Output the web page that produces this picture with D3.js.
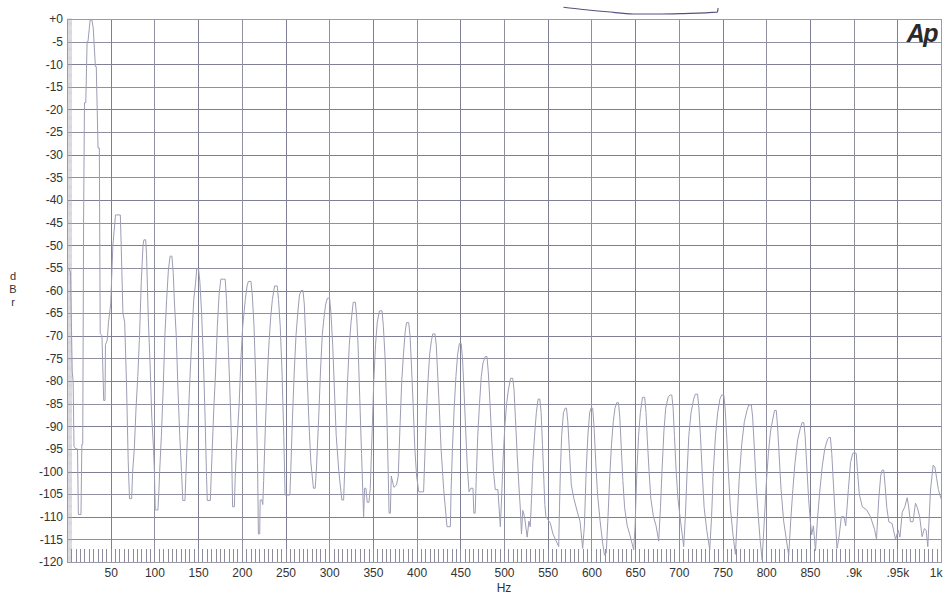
<!DOCTYPE html>
<html>
<head>
<meta charset="UTF-8">
<script src="https://cdn.jsdelivr.net/npm/d3@7"></script>
<style>
  body { margin: 0; background: #fff; }
  text { font-family: "Liberation Sans", Arial, sans-serif; }
</style>
</head>
<body>
<div id="chart"></div>
<script>
// FFT spectrum, dBr vs Hz
var yTickVals = [0, -5, -10, -15, -20, -25, -30, -35, -40, -45, -50, -55, -60,
  -65, -70, -75, -80, -85, -90, -95, -100, -105, -110, -115, -120];
var yTickLabels = ["+0", "-5", "-10", "-15", "-20", "-25", "-30", "-35", "-40", "-45",
  "-50", "-55", "-60", "-65", "-70", "-75", "-80", "-85", "-90", "-95", "-100",
  "-105", "-110", "-115", "-120"];
var xTickVals = [50, 100, 150, 200, 250, 300, 350, 400, 450, 500, 550, 600, 650,
  700, 750, 800, 850, 900, 950, 1000];
var xTickLabels = ["50", "100", "150", "200", "250", "300", "350", "400", "450",
  "500", "550", "600", "650", "700", "750", "800", "850", ".9k", ".95k", "1k"];
var yTitle = ["d", "B", "r"];

// [Hz, dBr]
var spectrum = [
  [2, -55], [4, -56], [6, -78], [7, -80], [8, -94.5], [10, -95], [12, -95], [13, -109.5], [16, -109.5], [17, -94], [18, -94],
  [19, -44], [20, -18.5], [21.5, -18.5], [23, -5], [24, -5], [26.5, -0.2], [28.5, -0.2], [30, -2], [32.5, -10.5], [33.5, -10.5], [35.5, -28.5], [37, -28.5], [38, -69.5], [40, -70], [42, -84.3], [43.5, -84.3],
  [44, -72], [46, -71], [47.5, -67], [50, -63], [52.5, -50], [55.5, -43.3], [61, -43.3], [62, -50], [64, -65], [66, -67], [68, -80], [70, -97.5], [71.5, -106], [74, -106], [75, -100.4], [77, -95],
  [79, -86], [81, -79], [83, -70], [85, -58], [87, -50], [88, -48.8], [90, -48.8], [91, -52], [93, -66], [95, -76], [97, -88], [99, -95], [100, -100], [101, -108.5], [104, -108.5], [105, -105], [106, -100],
  [108, -92], [110, -82], [112, -70], [114, -62], [116, -55.5], [118, -52.4], [120, -52.4], [121.5, -56], [123, -63], [125, -70], [127, -82], [129, -92], [131, -100], [132.5, -106.4], [135, -106.4], [136, -101], [137, -96],
  [139, -87], [141, -78], [143, -70], [145, -62], [147, -58.5], [148.5, -55.2], [150.5, -55.2], [152, -58], [154, -65], [156, -75], [158, -88], [159.5, -100], [160.5, -106.4], [164, -106.4], [165, -101], [166, -96],
  [168, -86], [170, -78], [172, -68], [174, -61], [176, -57.5], [181, -57.5], [182.5, -62], [184, -70], [186, -80], [188, -92], [189.5, -107.8], [191.5, -107.8], [192.5, -101], [194, -95],
  [197, -85], [199, -75], [201, -68], [204, -62], [206, -59], [207.5, -58], [210.5, -58], [212, -61], [214, -68], [216, -80], [218, -98], [219, -113.8], [220.5, -113.8], [221, -106.3], [223, -106.3], [224, -107.3], [225, -102],
  [227, -90], [229, -80], [231, -72], [233, -66], [235, -62], [237.5, -59], [240.5, -59], [242, -62], [244, -68], [246, -78], [248, -92], [249.5, -105.2], [255, -105.2], [256, -100],
  [258, -88], [260, -78], [262, -70], [264, -65], [266, -61], [268, -60], [270, -60], [271.5, -63], [273, -70], [275, -80], [277, -90], [279, -98], [282, -103.7], [284, -103.7], [285.5, -99],
  [288, -88], [290, -78], [292, -70], [294, -66], [296, -63], [298, -61.7], [300.5, -61.7], [302, -65], [304, -72], [306, -82], [308, -92], [311, -100], [314.5, -106.3], [316.5, -106.3], [317.5, -101],
  [319, -92], [321, -80], [323, -72], [325, -67], [327.5, -62.6], [330, -62.6], [331.5, -66], [333, -72], [335, -84], [337, -96], [339.4, -110], [340.5, -103.7], [342, -103.7], [343.5, -106.8], [345.5, -106.8], [347, -103.7],
  [349, -92], [351, -80], [353, -72], [355, -67], [357.5, -64.5], [360.5, -64.5], [362, -68], [364, -75], [366, -88], [367.5, -100], [368.5, -109.2], [370, -109.2], [371, -101], [374, -103.5], [377, -103], [379, -101],
  [381, -90], [383, -80], [385, -74], [387, -69], [388.5, -67.1], [391, -67.1], [392.5, -70], [394, -76], [396, -85], [398, -95], [400, -101], [402.5, -104.5], [408, -104.5], [409, -99],
  [411, -88], [413, -80], [415, -74], [417, -71], [418.5, -69.6], [421, -69.6], [422.5, -72], [424, -78], [426, -86], [428, -95], [431, -104], [434.8, -112.2], [438.6, -112.2], [439.5, -104],
  [441, -95], [443, -86], [445, -79], [447, -74], [449, -71.7], [451, -71.7], [452.5, -75], [454, -81], [456, -90], [458, -99], [460, -104.5], [462, -103.7], [464.5, -103.7], [465.5, -109.2], [467, -109.2], [468.5, -100],
  [470, -92], [472, -85], [474, -79], [476, -76], [478.5, -74.6], [480.5, -74.6], [482, -78], [484, -85], [486, -93], [488, -100], [490, -104], [493, -104], [495.8, -112.2], [497, -107],
  [499, -97], [501, -90], [503, -85], [505, -82], [507.5, -79.4], [510, -79.4], [511.5, -82], [513, -88], [515, -96], [517, -103], [518.7, -108.3], [520, -113.8], [521.5, -108.6], [523.5, -110], [526.5, -114.5], [528.5, -111], [530, -112.2], [531.5, -106],
  [533, -98], [535, -92], [537, -87], [539, -84], [541, -84], [542.5, -87], [544, -94], [546.7, -107.3], [548, -110], [553, -111.4], [556, -113.8], [562.6, -116.6], [563.5, -108],
  [564.5, -100], [566, -92], [568, -87], [570, -86], [571.5, -86], [573, -89], [575, -96], [577, -103], [580, -106], [584, -109], [587, -111], [590, -117], [592, -112],
  [594, -100], [596, -92], [598, -87], [599.5, -86], [601.5, -86], [603, -90], [605, -98], [607, -105], [610, -111], [613, -116], [615, -118.5], [617, -118], [619, -110],
  [621, -101], [623, -94], [625, -89], [627, -86], [629, -84.8], [631, -84.8], [632.5, -88], [634, -94], [636, -102], [638, -108], [641, -112], [644, -114], [648.4, -117.3], [650, -112],
  [652, -100], [654, -92], [656, -87], [658.5, -83.6], [661, -83.6], [662.5, -87], [664, -93], [666, -100], [668, -106], [671, -110], [674, -112], [677, -115.4], [679, -108],
  [681, -99], [683, -91], [685, -86], [688, -83.5], [690, -83.1], [692, -83.1], [693.5, -86], [695, -92], [697, -100], [699, -106], [702, -111], [705.6, -116.6], [707.5, -110],
  [709.5, -100], [711.5, -92], [714, -87], [717, -84], [719, -82.9], [721.5, -82.9], [723, -86], [725, -93], [727, -101], [729, -108], [732, -113], [735.4, -117.3], [737.5, -110],
  [739.5, -100], [742, -92], [744.5, -87], [747, -84], [749, -83.1], [751.5, -83.1], [753, -86], [755, -93], [757, -101], [759, -108], [762, -114], [764.8, -118.3], [767, -110],
  [769, -102], [772, -94], [775, -89], [778, -86.5], [780, -85.3], [783, -85.3], [784.5, -88], [786.5, -95], [788.5, -103], [791, -110], [793, -115], [795.3, -119.5], [797.5, -112],
  [800, -103], [802.5, -96], [805, -91], [808, -88], [809.5, -86.5], [811.5, -86.5], [813, -90], [815, -97], [817, -104], [820, -111], [823, -115], [825.8, -118.6], [828, -111],
  [830.5, -104], [833, -98], [836, -93], [839, -90.5], [841, -89.2], [843, -89.2], [844.5, -92], [846.5, -99], [848.5, -106], [850.5, -111], [852, -114], [854, -112], [856.4, -117.5], [858.5, -111],
  [861, -105], [864, -99], [867, -95], [870, -93], [871.5, -92.5], [873.5, -92.5], [875, -96], [877, -103], [879, -110], [881, -117], [883, -115], [886, -110], [889, -110], [891, -112], [892.5, -108],
  [894, -104], [896.5, -98], [899, -96], [901, -95.8], [903, -96], [904.5, -100], [906.5, -105], [910, -107.8], [915, -108.5], [919.3, -110], [924, -112.8], [926.2, -115], [928.8, -106],
  [931, -101], [932.5, -99.7], [934.5, -99.7], [936, -103], [938, -108], [940.3, -111.1], [944, -111.5], [948, -115], [951, -113], [953, -114.5],
  [955.7, -109], [958.6, -107.8], [961.3, -105.8], [963, -107.8], [965, -111.1], [968, -111.1], [970.8, -107], [973, -108], [975.6, -110], [978.4, -114.4], [981, -112.6], [983, -113], [984.9, -116.6], [988, -104.1],
  [991, -98.6], [993, -99], [995, -101.5], [997, -104], [1000, -106]
];

// pen mark on the scan, above the plot
var penMark = [[568, 2.6], [590, 2.1], [618, 1.6], [648, 1.1], [680, 1.1], [705, 1.2], [744, 1.5], [745, 2.4]];

var W = 944, H = 594;
var svg = d3.select("#chart").append("svg")
  .attr("width", W).attr("height", H);

var x = d3.scaleLinear().domain([0, 1000]).range([67, 941]);
var y = d3.scaleLinear().domain([-120, 0]).range([562, 19]);

var gridColor = "#7e7e94";

// grid
svg.append("g")
  .selectAll("line").data(yTickVals).enter().append("line")
  .attr("x1", x(0)).attr("x2", x(1000))
  .attr("y1", function(d){ return Math.round(y(d)) + 0.5; })
  .attr("y2", function(d){ return Math.round(y(d)) + 0.5; })
  .attr("stroke", function(d,i){ return i % 2 ? "#9090a0" : gridColor; })
  .attr("stroke-width", 1);
svg.append("g")
  .selectAll("line").data(xTickVals).enter().append("line")
  .attr("y1", y(0)).attr("y2", y(-120))
  .attr("x1", function(d){ return Math.round(x(d)) + 0.5; })
  .attr("x2", function(d){ return Math.round(x(d)) + 0.5; })
  .attr("stroke", function(d,i){ return i % 2 ? "#9090a0" : gridColor; })
  .attr("stroke-width", 1);

// minor tick combs
var yMinor = d3.range(0, 481).map(function(i){ return -120 + i * 0.25; });
svg.append("g").selectAll("line").data(yMinor).enter().append("line")
  .attr("x1", x(0)).attr("x2", x(0) + 5)
  .attr("y1", function(d){ return y(d); }).attr("y2", function(d){ return y(d); })
  .attr("stroke", "#a8a8b4").attr("stroke-width", 0.5);
var xMinor = d3.range(1, 200).map(function(i){ return i * 5; });
svg.append("g").selectAll("line").data(xMinor).enter().append("line")
  .attr("x1", function(d){ return Math.round(x(d)) + 0.5; })
  .attr("x2", function(d){ return Math.round(x(d)) + 0.5; })
  .attr("y1", y(-120)).attr("y2", y(-120) - 13)
  .attr("stroke", "#8c8c9c").attr("stroke-width", 1);

// frame
svg.append("rect")
  .attr("x", x(0) + 0.5).attr("y", y(0) + 0.5)
  .attr("width", x(1000) - x(0)).attr("height", y(-120) - y(0))
  .attr("fill", "none").attr("stroke", "#9a9aa8").attr("stroke-width", 1);

// trace
var line = d3.line()
  .x(function(d){ return x(d[0]); })
  .y(function(d){ return y(d[1]); });
svg.append("path")
  .datum(spectrum)
  .attr("d", line)
  .attr("fill", "none")
  .attr("stroke", "#9d9db4")
  .attr("stroke-width", 1);

// axes (labels only)
var yAxis = d3.axisLeft(y).tickValues(yTickVals).tickSize(0).tickPadding(4)
  .tickFormat(function(d, i){ return yTickLabels[i]; });
var gy = svg.append("g").attr("transform", "translate(" + x(0) + ",0)").call(yAxis);
var xAxis = d3.axisBottom(x).tickValues(xTickVals).tickSize(0).tickPadding(6)
  .tickFormat(function(d, i){ return xTickLabels[i]; });
var gx = svg.append("g").attr("transform", "translate(0," + y(-120) + ")").call(xAxis);
[gx, gy].forEach(function(g){
  g.select(".domain").remove();
  g.selectAll("text").attr("fill", "#333").style("font-size", "12px")
    .style("font-family", "'Liberation Sans', Arial, sans-serif");
});
gx.selectAll(".tick").filter(function(d){ return d === 1000; })
  .select("text").attr("text-anchor", "end").attr("x", 1);

// axis titles
svg.append("text")
  .attr("x", (x(0) + x(1000)) / 2).attr("y", 592)
  .attr("text-anchor", "middle").attr("fill", "#333")
  .style("font-size", "12px").text("Hz");
svg.selectAll("text.ytitle").data(yTitle).enter().append("text")
  .attr("class", "ytitle")
  .attr("x", 13).attr("y", function(d, i){ return 280 + i * 13; })
  .attr("text-anchor", "middle").attr("fill", "#333")
  .style("font-size", "11px")
  .text(function(d){ return d; });

// logo
svg.append("text")
  .attr("x", 937).attr("y", 42).attr("text-anchor", "end")
  .attr("fill", "#2a2a2a")
  .style("font-size", "25px").style("font-weight", "bold").style("font-style", "italic")
  .style("letter-spacing", "-1.5px")
  .text("Ap");

// pen mark
svg.append("path")
  .datum(penMark)
  .attr("d", d3.line().curve(d3.curveMonotoneX)
    .x(function(d){ return x(d[0]); }).y(function(d){ return y(d[1]); }))
  .attr("fill", "none").attr("stroke", "#5b4f7e").attr("stroke-width", 1.2);
</script>
</body>
</html>
